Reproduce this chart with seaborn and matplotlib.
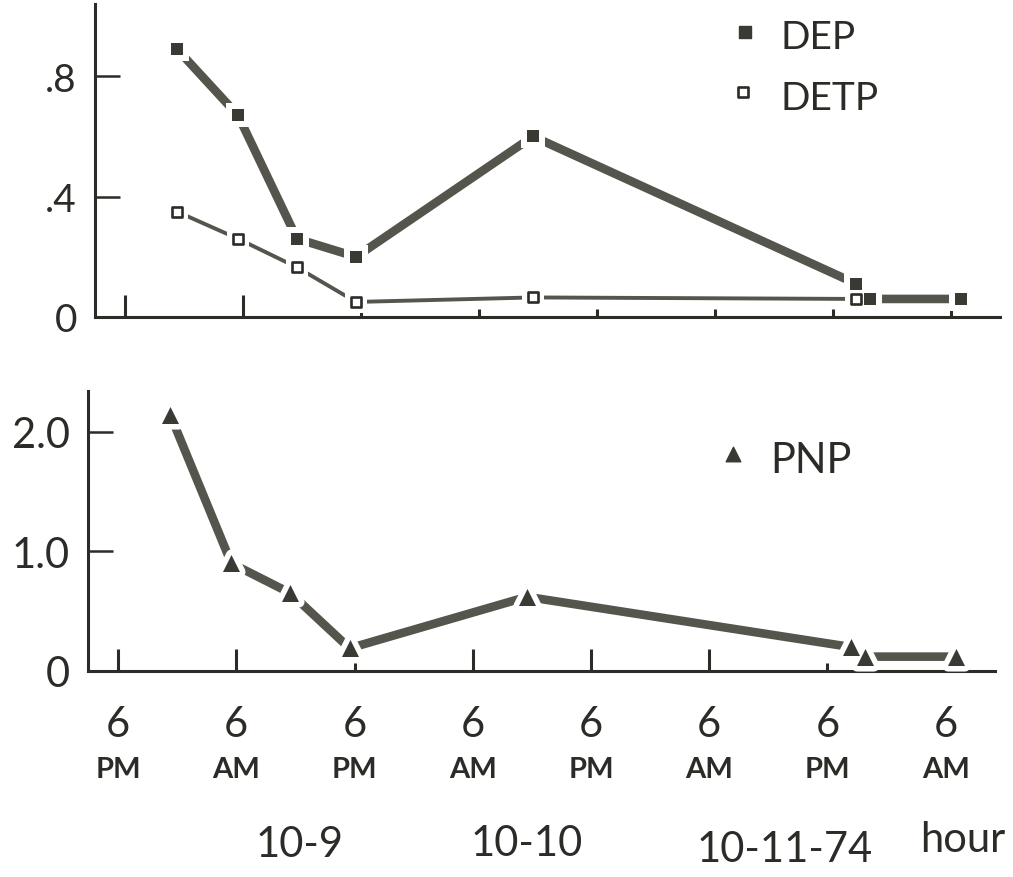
import numpy as np
import pandas as pd
import matplotlib
matplotlib.use("Agg")
import matplotlib.pyplot as plt
import seaborn as sns
from matplotlib.markers import MarkerStyle

# ---------------- data ----------------
hours = [5.3, 11.5, 17.5, 23.5, 41.5, 74.4, 75.8, 85.0]
dep = [0.89, 0.67, 0.26, 0.20, 0.60, 0.11, 0.06, 0.06]
detp_hours = [5.3, 11.5, 17.5, 23.5, 41.5, 74.4]
detp = [0.35, 0.26, 0.165, 0.05, 0.065, 0.06]
pnp = [2.14, 0.90, 0.65, 0.19, 0.62, 0.20, 0.12, 0.12]

tick_hours = [0, 12, 24, 36, 48, 60, 72, 84]
tick_num = ["6", "6", "6", "6", "6", "6", "6", "6"]
tick_ampm = ["PM", "AM", "PM", "AM", "PM", "AM", "PM", "AM"]
date_labels = ["10-9", "10-10", "10-11-74", "hour"]
date_hours = [18.4, 41.5, 67.6, 85.7]
top_yticks = [0, 0.4, 0.8]
top_ylabels = ["0", ".4", ".8"]
bot_yticks = [0, 1.0, 2.0]
bot_ylabels = ["0", "1.0", "2.0"]

# ---------------- style ----------------
sns.set_theme(style="white")
plt.rcParams['font.family'] = ['Lato', 'DejaVu Sans']

DARK = "#2b2b27"
BAND = "#55554d"
MARK = "#3a3a34"

W, H = 1013, 878
fig = plt.figure(figsize=(W / 100, H / 100), dpi=100)
fig.patch.set_facecolor("white")


def px_axes(l, t, r, b):
    return [l / W, 1 - b / H, (r - l) / W, (b - t) / H]


ax1 = fig.add_axes(px_axes(95, 5, 1000, 318))
ax2 = fig.add_axes(px_axes(88, 392, 995, 672))

df_dep = pd.DataFrame({"hour": hours, "value": dep})
df_detp = pd.DataFrame({"hour": detp_hours, "value": detp})
df_pnp = pd.DataFrame({"hour": hours, "value": pnp})

# ---------------- top panel ----------------
sns.lineplot(data=df_dep, x="hour", y="value", ax=ax1, color=BAND,
             linewidth=6.2, solid_capstyle="butt", zorder=2)
sns.lineplot(data=df_detp, x="hour", y="value", ax=ax1, color=BAND,
             linewidth=2.8, solid_capstyle="butt", zorder=2)
# white halos giving the gaps around markers
sns.scatterplot(data=df_dep, x="hour", y="value", ax=ax1, marker="s",
                s=310, color="white", edgecolor="white", linewidth=0, zorder=3)
sns.scatterplot(data=df_detp, x="hour", y="value", ax=ax1, marker="s",
                s=260, color="white", edgecolor="white", linewidth=0, zorder=3)
# markers
sns.scatterplot(data=df_dep, x="hour", y="value", ax=ax1, marker="s",
                s=80, color=MARK, edgecolor=MARK, linewidth=0, zorder=4)
sns.scatterplot(data=df_detp, x="hour", y="value", ax=ax1, marker="s",
                s=48, color="white", edgecolor=DARK, linewidth=1.9, zorder=4)

# ---------------- bottom panel ----------------
sns.lineplot(data=df_pnp, x="hour", y="value", ax=ax2, color=BAND,
             linewidth=6.2, solid_capstyle="butt", zorder=2)
sns.scatterplot(data=df_pnp, x="hour", y="value", ax=ax2,
                marker=MarkerStyle("^", joinstyle="round"),
                s=150, color="white", edgecolor="white", linewidth=8, zorder=3)
sns.scatterplot(data=df_pnp, x="hour", y="value", ax=ax2, marker="^",
                s=150, color=MARK, edgecolor=MARK, linewidth=0, zorder=4)

# ---------------- axes formatting ----------------
for ax, ylim, yt, yl, ysz in [(ax1, 1.04, top_yticks, top_ylabels, 28),
                              (ax2, 2.34, bot_yticks, bot_ylabels, 30)]:
    ax.set_xlim(-3.05, 89.0)
    ax.set_ylim(0, ylim)
    ax.set_xlabel("")
    ax.set_ylabel("")
    for s in ["top", "right"]:
        ax.spines[s].set_visible(False)
    for s in ["left", "bottom"]:
        ax.spines[s].set_color(DARK)
        ax.spines[s].set_linewidth(2.2)
    ax.set_yticks(yt)
    ax.set_yticklabels(yl)
    ax.tick_params(axis="y", which="major", left=True, direction="in",
                   length=18, width=1.8, color=DARK, labelsize=ysz,
                   labelcolor=DARK, pad=13)
    ax.set_facecolor("white")
    if ax.get_legend():
        ax.get_legend().remove()

ax1.set_xticks([0, 12])
ax1.set_xticks([24, 36, 48, 60, 72, 84], minor=True)
ax2.set_xticks([0, 12, 36, 48, 60])
ax2.set_xticks([24, 72, 84], minor=True)
for ax in (ax1, ax2):
    ax.tick_params(axis="x", which="major", bottom=True, direction="in",
                   length=16, width=2.2, color=DARK, labelbottom=False)
    ax.tick_params(axis="x", which="minor", bottom=True, direction="in",
                   length=6, width=2.2, color=DARK, labelbottom=False)
    ax.tick_params(axis="y", which="minor", left=False)

# x labels under the bottom panel
tr = ax2.get_xaxis_transform()
for h, n, ap in zip(tick_hours, tick_num, tick_ampm):
    ax2.text(h, -0.232, n, transform=tr, ha="center", va="baseline",
             fontsize=30, color=DARK, clip_on=False)
    ax2.text(h, -0.379, ap, transform=tr, ha="center", va="baseline",
             fontsize=21, fontweight="bold", color=DARK, clip_on=False)
date_y = [-0.661, -0.657, -0.679, -0.643]
for h, lab, yy in zip(date_hours, date_labels, date_y):
    ax2.text(h, yy, lab, transform=tr, ha="center", va="baseline",
             fontsize=30, color=DARK, clip_on=False)

# ---------------- legends (in-plot keys) ----------------
ax1.scatter([0.718], [0.911], transform=ax1.transAxes, marker="s", s=85,
            color=MARK, clip_on=False, zorder=5)
ax1.text(0.757, 0.859, "DEP", transform=ax1.transAxes, fontsize=28,
         color=DARK, va="baseline", ha="left")
ax1.scatter([0.716], [0.719], transform=ax1.transAxes, marker="s", s=48,
            facecolor="white", edgecolor=DARK, linewidth=1.9, clip_on=False,
            zorder=5)
ax1.text(0.757, 0.665, "DETP", transform=ax1.transAxes, fontsize=28,
         color=DARK, va="baseline", ha="left")
ax2.scatter([0.711], [0.775], transform=ax2.transAxes, marker="^", s=110,
            color=MARK, clip_on=False, zorder=5)
ax2.text(0.752, 0.711, "PNP", transform=ax2.transAxes, fontsize=30,
         color=DARK, va="baseline", ha="left")

fig.savefig("out.png", dpi=100, facecolor="white")
